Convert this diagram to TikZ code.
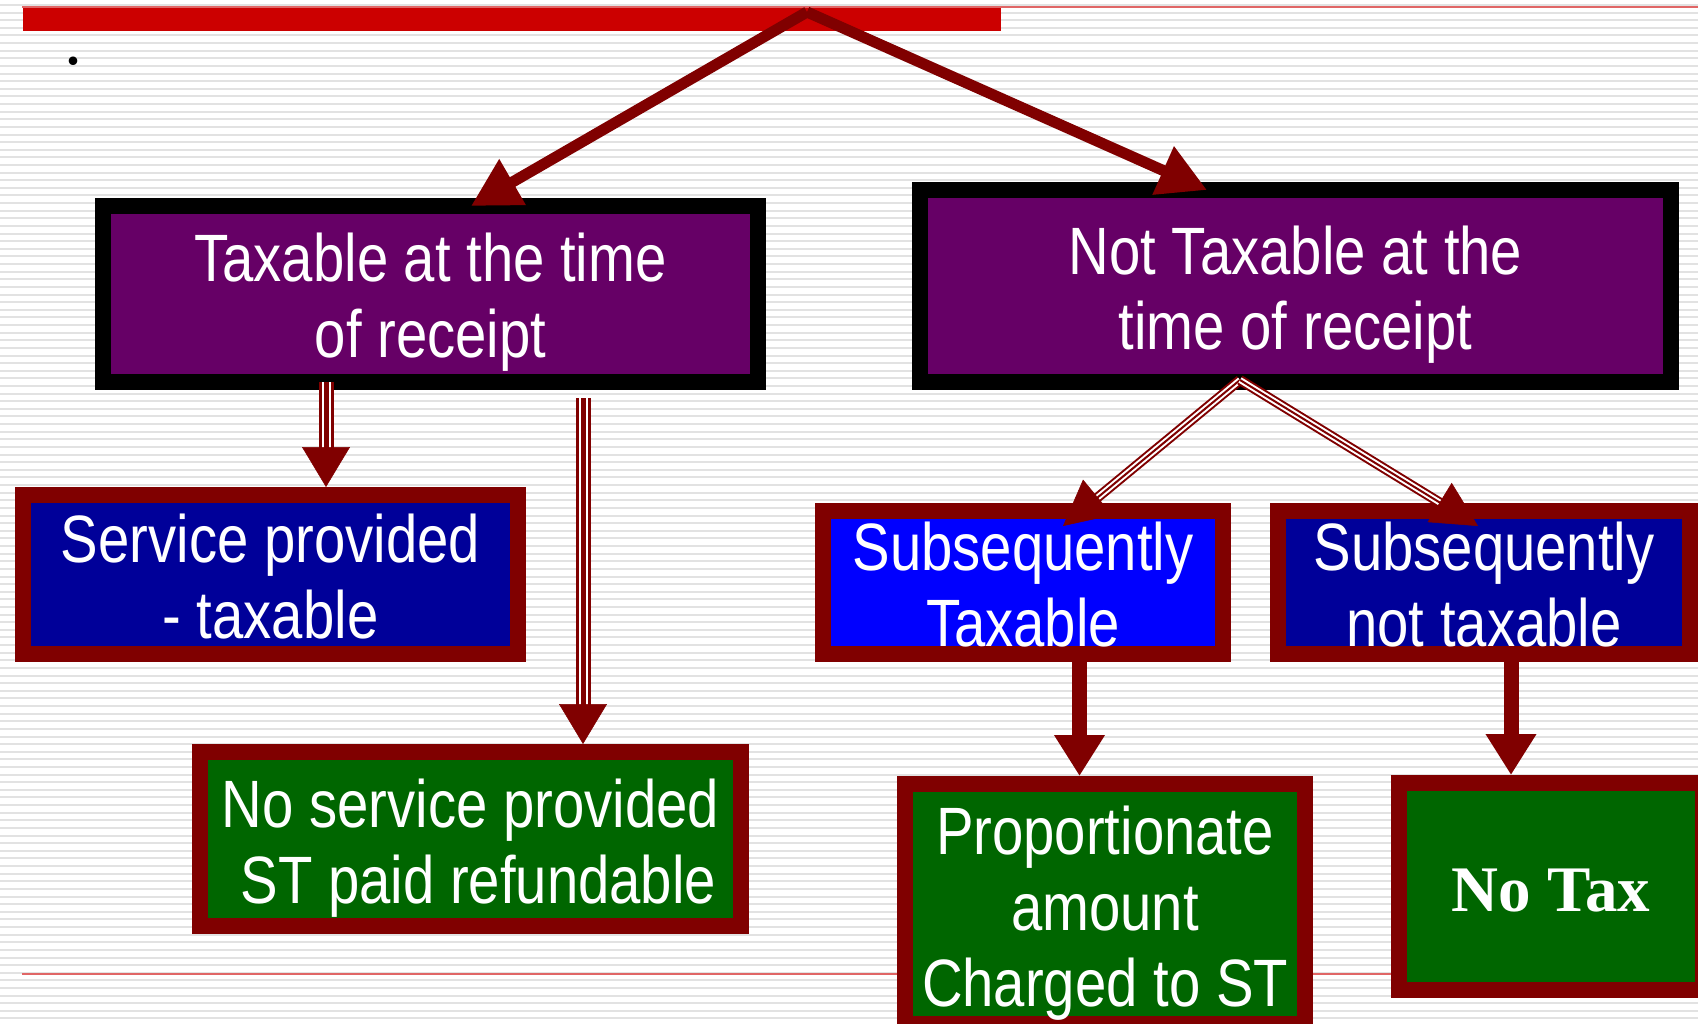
\documentclass[tikz,border=0pt]{standalone}
\usepackage{fontspec}
\usetikzlibrary{arrows.meta,calc}
\newfontfamily\nar[FakeStretch=0.84]{Liberation Sans}
\newfontfamily\tnr{Liberation Serif}
\definecolor{dred}{HTML}{800000}
\definecolor{purp}{HTML}{660066}
\definecolor{dblue}{HTML}{000099}
\definecolor{bblue}{HTML}{0000FF}
\definecolor{dgreen}{HTML}{006600}
\definecolor{barred}{HTML}{CC0000}
\definecolor{thinred}{HTML}{E06666}
\definecolor{stripecol}{HTML}{E2E2E2}
\newcommand\topstr{\rule{0pt}{67pt}}
\newcommand\botstr{\rule[-15pt]{0pt}{15pt}}
\newcommand\onestr{\rule[-15pt]{0pt}{80pt}}
\begin{document}
\begin{tikzpicture}[x=1pt,y=-1pt,
  box/.style={line width=16pt, inner xsep=0pt, inner ysep=-60pt, outer sep=0pt, text=white,
    align=center, font=\nar\fontsize{67}{76}\selectfont},
  blackbox/.style={box, draw=black, fill=purp},
  redbox/.style={box, draw=dred, fill=#1},
  bigarrow/.style={draw=dred, line width=11pt, -{Triangle[length=48pt,width=50pt]}},
  tripleA/.style={draw=dred, line width=3pt, double=white, double distance=9pt,
    postaction={draw=dred, line width=5pt}},
  tripleB/.style={draw=dred, line width=2pt, double=white, double distance=6pt,
    postaction={draw=dred, line width=2pt}},
  headA/.style={draw=dred, line width=0.5pt, -{Triangle[length=40pt,width=48pt]}},
  headB/.style={draw=dred, line width=0.5pt, -{Triangle[length=45pt,width=46pt]}},
  solidarrow/.style={draw=dred, line width=15pt, -{Triangle[length=41pt,width=48pt]}},
]
\useasboundingbox (0,0) rectangle (1698,1024);
\clip (0,0) rectangle (1698,1024);
\fill[white] (0,0) rectangle (1698,1024);
% background stripes
\foreach \i in {0,...,134}
  \fill[stripecol] (0,{5+7.62*\i-1}) rectangle (1698,{5+7.62*\i+1});
% decorative lines and bar
\draw[thinred, line width=2pt] (22,7) -- (1698,7);
\fill[barred] (23,8) rectangle (1001,31);
\draw[thinred, line width=2pt] (22,974) -- (1400,974);
\node[anchor=base west, inner sep=0pt, font=\tnr\fontsize{72}{72}\selectfont] (dot) at (64,65) {.};

% boxes
\node[blackbox, minimum width=655pt, minimum height=176pt] (b1) at (430.5,294)
  {\topstr Taxable at the time\\of receipt\botstr};
\node[blackbox, minimum width=751pt, minimum height=192pt] (b2) at (1295.5,286)
  {\topstr Not Taxable at the\\time of receipt\botstr};
\node[redbox=dblue, minimum width=495pt, minimum height=159pt] (b3) at (270.5,574.5)
  {\topstr Service provided\\- taxable\botstr};
\node[redbox=dgreen, minimum width=541pt, minimum height=174pt] (b4) at (470.5,839)
  {\topstr No service provided\\\ ST paid refundable\botstr};
\node[redbox=bblue, minimum width=400pt, minimum height=143pt] (b5) at (1023,582.5)
  {\topstr Subsequently\\Taxable\botstr};
\node[redbox=dblue, minimum width=412pt, minimum height=143pt] (b6) at (1484,582.5)
  {\topstr Subsequently\\not taxable\botstr};
\node[redbox=dgreen, minimum width=400pt, minimum height=240pt] (b7) at (1105,904)
  {\topstr Proportionate\\amount\\Charged to ST\botstr};
\node[redbox=dgreen, minimum width=304pt, minimum height=207pt,
  font=\tnr\bfseries\fontsize{65}{76}\selectfont] (b8) at (1551,886.5)
  {\onestr No Tax};

% top connectors
\coordinate (apex) at (807,12);
\draw[bigarrow] (apex) -- ([xshift=40.5pt]b1.north);
\draw[bigarrow] (apex) -- ([xshift=-88.5pt]b2.north);

% b1 -> b3, b1 -> b4 (triple lines)
\draw[tripleA, shorten >=38pt] ([xshift=-104.5pt]b1.south) -- ([shift={(55.5,-8)}]b3.north);
\draw[headA] ([xshift=-104.5pt]b1.south) -- ([shift={(55.5,-8)}]b3.north);
\draw[tripleA, shorten >=38pt] ([shift={(152.5,16)}]b1.south) -- ([shift={(112.5,-8)}]b4.north);
\draw[headA] ([shift={(152.5,16)}]b1.south) -- ([shift={(112.5,-8)}]b4.north);

% b2 -> b5, b2 -> b6
\coordinate (apex2) at (1240,380);
\draw[tripleB, shorten >=42pt] (apex2) -- ([shift={(40,15)}]b5.north);
\draw[headB] (apex2) -- ([shift={(40,15)}]b5.north);
\draw[tripleB, shorten >=42pt] (apex2) -- ([shift={(-6,15)}]b6.north);
\draw[headB] (apex2) -- ([shift={(-6,15)}]b6.north);

% b5 -> b7, b6 -> b8
\draw[solidarrow] ([xshift=56.5pt]b5.south) -- ([shift={(-25.5,-8)}]b7.north);
\draw[solidarrow] ([xshift=27pt]b6.south) -- ([shift={(-40,-8)}]b8.north);
\end{tikzpicture}
\end{document}
